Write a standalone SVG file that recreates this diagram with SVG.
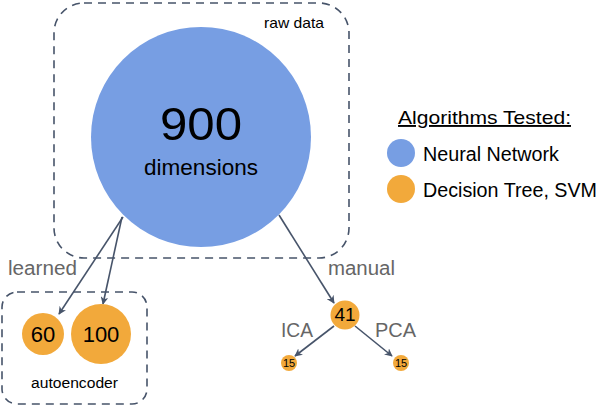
<svg xmlns="http://www.w3.org/2000/svg" width="598" height="406" viewBox="0 0 598 406">
<defs>
<style>
text{font-family:"Liberation Sans",Arial,sans-serif}
.box{fill:none;stroke:#47546a;stroke-width:1.6;stroke-dasharray:8 6}
.blue{fill:#779ee3}
.orange{fill:#f2a93b}
.edge{stroke:#47546a;stroke-width:1.6;fill:none;marker-end:url(#ah)}
.lbl{fill:#666;font-size:20px}
</style>
<marker id="ah" viewBox="0 0 10 10" refX="9" refY="5" markerWidth="8" markerHeight="8" orient="auto" markerUnits="userSpaceOnUse">
<path d="M0,0 L10,5 L0,10 L3,5 z" fill="#47546a"/>
</marker>
</defs>
<g id="raw">
<rect class="box" x="54" y="3" width="295" height="255" rx="30"/>
<text x="264" y="28" font-size="14.5" textLength="60" lengthAdjust="spacingAndGlyphs">raw data</text>
</g>
<g id="auto">
<rect class="box" x="2" y="292" width="145" height="112" rx="15"/>
<text x="31" y="388" font-size="15.5" textLength="87" lengthAdjust="spacingAndGlyphs">autoencoder</text>
</g>
<g id="connectors">
<line class="edge" x1="123" y1="217" x2="59" y2="314"/>
<line class="edge" x1="122" y1="217" x2="103" y2="304"/>
<line class="edge" x1="279" y1="215" x2="334" y2="303"/>
<line class="edge" x1="334" y1="326" x2="295" y2="356"/>
<line class="edge" x1="355" y1="326" x2="392" y2="356"/>
</g>
<g id="n900">
<circle class="blue" cx="201" cy="137" r="110"/>
<text x="160" y="140" font-size="47" textLength="82" lengthAdjust="spacingAndGlyphs">900</text>
<text x="144" y="175" font-size="21.5" textLength="114" lengthAdjust="spacingAndGlyphs">dimensions</text>
</g>
<g id="n60">
<circle class="orange" cx="43" cy="334" r="21"/>
<text x="43" y="342" font-size="22" text-anchor="middle">60</text>
</g>
<g id="n100">
<circle class="orange" cx="101" cy="334" r="30"/>
<text x="101" y="342" font-size="22" text-anchor="middle">100</text>
</g>
<g id="n41">
<circle class="orange" cx="345" cy="315" r="14.5"/>
<text x="345" y="321" font-size="19" text-anchor="middle">41</text>
</g>
<g id="n15a">
<circle class="orange" cx="289" cy="363" r="8"/>
<text x="289" y="367" font-size="11" text-anchor="middle">15</text>
</g>
<g id="n15b">
<circle class="orange" cx="401" cy="363" r="8"/>
<text x="401" y="367" font-size="11" text-anchor="middle">15</text>
</g>
<g id="labels">
<text class="lbl" x="8" y="275" textLength="69" lengthAdjust="spacingAndGlyphs">learned</text>
<text class="lbl" x="328" y="275" textLength="67" lengthAdjust="spacingAndGlyphs">manual</text>
<text class="lbl" x="281" y="337" textLength="32" lengthAdjust="spacingAndGlyphs">ICA</text>
<text class="lbl" x="375" y="337" textLength="41" lengthAdjust="spacingAndGlyphs">PCA</text>
</g>
<g id="legend">
<text x="398" y="124" font-size="19" text-decoration="underline" textLength="173" lengthAdjust="spacingAndGlyphs">Algorithms Tested:</text>
<circle class="blue" cx="401" cy="153" r="14"/>
<text x="423" y="161" font-size="19.5" textLength="136" lengthAdjust="spacingAndGlyphs">Neural Network</text>
<circle class="orange" cx="401" cy="189" r="14"/>
<text x="423" y="197" font-size="19.5" textLength="174" lengthAdjust="spacingAndGlyphs">Decision Tree, SVM</text>
</g>
</svg>
